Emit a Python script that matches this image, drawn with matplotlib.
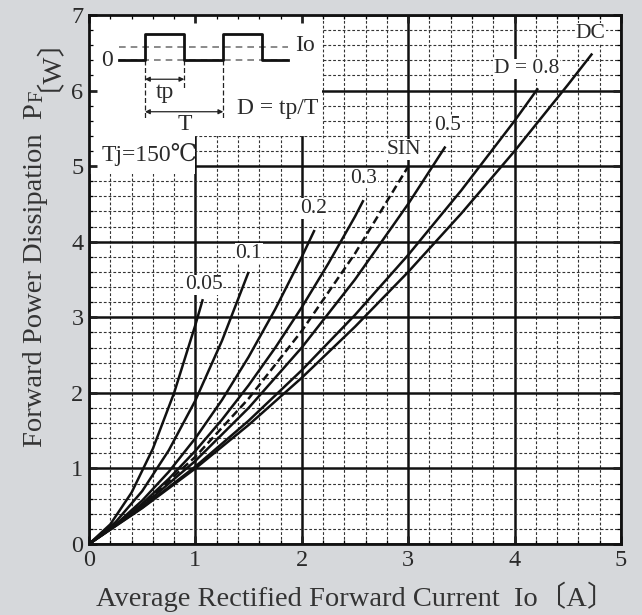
import matplotlib
matplotlib.use("Agg")
import matplotlib.pyplot as plt
import matplotlib.transforms as mtransforms
from matplotlib.patches import Rectangle

plt.rcParams['font.family'] = ['Liberation Serif', 'DejaVu Serif', 'DejaVu Sans', 'Noto Sans CJK JP']

# ---------------- data ----------------
x_dc = [0, 0.5, 1.0, 1.5, 2.0, 2.5, 3.0, 3.5, 4.0, 4.5, 4.73]
p_dc = [0, 0.475, 1.0, 1.575, 2.2, 2.875, 3.6, 4.375, 5.2, 6.075, 6.49]

x_d08 = [0, 0.5, 1.0, 1.5, 2.0, 2.5, 3.0, 3.5, 4.0, 4.22]
p_d08 = [0, 0.481, 1.025, 1.631, 2.3, 3.031, 3.825, 4.681, 5.6, 6.03]

x_d05 = [0, 0.5, 1.0, 1.5, 2.0, 2.5, 3.0, 3.35]
p_d05 = [0, 0.5, 1.1, 1.8, 2.6, 3.5, 4.5, 5.26]

x_sin = [0, 0.5, 1.0, 1.5, 2.0, 2.5, 3.0]
p_sin = [0, 0.514, 1.155, 1.924, 2.82, 3.844, 4.995]

x_d03 = [0, 0.25, 0.5, 0.75, 1.0, 1.25, 1.5, 1.75, 2.0, 2.25, 2.5, 2.58]
p_d03 = [0, 0.246, 0.533, 0.863, 1.233, 1.646, 2.1, 2.596, 3.133, 3.713, 4.333, 4.55]

x_d02 = [0, 0.25, 0.5, 0.75, 1.0, 1.25, 1.5, 1.75, 2.0, 2.12]
p_d02 = [0, 0.256, 0.575, 0.956, 1.4, 1.906, 2.475, 3.106, 3.8, 4.155]

x_d01 = [0, 0.25, 0.5, 0.75, 1.0, 1.25, 1.5]
p_d01 = [0, 0.29, 0.70, 1.24, 1.9, 2.69, 3.6]

x_d005 = [0, 0.2, 0.4, 0.6, 0.8, 1.0, 1.07]
p_d005 = [0, 0.26, 0.68, 1.26, 2.0, 2.9, 3.24]

curve_names = ["0.05", "0.1", "0.2", "0.3", "SIN", "0.5", "D = 0.8", "DC"]
label_x = [1.08, 1.50, 2.11, 2.58, 2.96, 3.37, 4.11, 4.71]
label_y = [3.43, 3.85, 4.44, 4.84, 5.22, 5.54, 6.29, 6.76]

x_ticks = [0, 1, 2, 3, 4, 5]
y_ticks = [0, 1, 2, 3, 4, 5, 6, 7]

# inset pulse waveform (data coordinates of the sketch)
pulse_x = [0.285, 0.526, 0.526, 0.896, 0.896, 1.262, 1.262, 1.623, 1.623, 1.873]
pulse_y = [6.40, 6.40, 6.75, 6.75, 6.40, 6.40, 6.75, 6.75, 6.40, 6.40]

# ---------------- figure ----------------
BG = '#d6d8db'
TXT = '#2a2a2a'
fig = plt.figure(figsize=(6.42, 6.15), dpi=100, facecolor=BG)
rect = [89/642, 71/615, 532/642, 529/615]
ax = fig.add_axes(rect)
ax.set_facecolor('white')
ax.set_xlim(0, 5)
ax.set_ylim(0, 7)
ax.set_axisbelow(True)

ax.set_xticks(x_ticks)
ax.set_yticks(y_ticks)
ax.set_xticks([i * 0.2 for i in range(26)], minor=True)
ax.set_yticks([i * 0.2 for i in range(36)], minor=True)
ax.grid(which='major', color='#111111', lw=1.8, ls='-')
ax.grid(which='minor', color='#333333', lw=0.8, ls=(0, (2.5, 1.8)))
ax.tick_params(which='both', length=0, labelbottom=False, labelleft=False)
for s in ax.spines.values():
    s.set_visible(False)

# white boxes behind inset & Tj text
ax.add_patch(Rectangle((0, 5.4), 2.19, 1.6, facecolor='white', edgecolor='none', zorder=1))
ax.add_patch(Rectangle((0, 4.9), 1.0, 0.55, facecolor='white', edgecolor='none', zorder=1))

lw = 1.8
curves = [(x_d005, p_d005), (x_d01, p_d01), (x_d02, p_d02), (x_d03, p_d03),
          (x_sin, p_sin), (x_d05, p_d05), (x_d08, p_d08), (x_dc, p_dc)]
for name, (xs, ps) in zip(curve_names, curves):
    if name == "SIN":
        ax.plot(xs, ps, color='#111111', lw=lw, ls=(0, (3.2, 1.6)), zorder=3)
    else:
        ax.plot(xs, ps, color='#111111', lw=lw, zorder=3, solid_capstyle='butt')

lab_fs = 15.5
for name, lx, ly in zip(curve_names, label_x, label_y):
    ax.text(lx, ly, name, ha='center', va='center', fontsize=lab_fs, color=TXT, zorder=4,
            bbox=dict(facecolor='white', edgecolor='none', pad=0.5))

# ---------------- inset sketch ----------------
ins_fs = 17
ax.plot([0.285, 1.873], [6.58, 6.58], color='#777777', lw=1.2, ls=(0, (4, 3)), zorder=3)
ax.plot([0.285, 1.873], [6.40, 6.40], color='#777777', lw=1.2, ls=(0, (4, 3)), zorder=3)
ax.plot(pulse_x, pulse_y, color='#111111', lw=2.0, zorder=4)
ax.plot([0.526, 0.526], [6.40, 5.63], color='#222222', lw=0.9, ls=(0, (4, 2)), zorder=3)
ax.plot([0.896, 0.896], [6.40, 6.03], color='#222222', lw=0.9, ls=(0, (4, 2)), zorder=3)
ax.plot([1.262, 1.262], [6.40, 5.63], color='#222222', lw=0.9, ls=(0, (4, 2)), zorder=3)
ax.annotate('', xy=(0.896, 6.15), xytext=(0.526, 6.15),
            arrowprops=dict(arrowstyle='<|-|>', lw=0.9, color='#222222', mutation_scale=7,
                            shrinkA=0, shrinkB=0), zorder=4)
ax.annotate('', xy=(1.262, 5.72), xytext=(0.526, 5.72),
            arrowprops=dict(arrowstyle='<|-|>', lw=0.9, color='#222222', mutation_scale=7,
                            shrinkA=0, shrinkB=0), zorder=4)
ax.text(0.17, 6.40, "0", ha='center', va='center', fontsize=ins_fs, color=TXT, zorder=4)
ax.text(2.03, 6.60, "Io", ha='center', va='center', fontsize=ins_fs, color=TXT, zorder=4)
ax.text(0.71, 5.97, "tp", ha='center', va='center', fontsize=ins_fs, color=TXT, zorder=4)
ax.text(0.90, 5.55, "T", ha='center', va='center', fontsize=ins_fs, color=TXT, zorder=4)
ax.text(1.77, 5.76, "D = tp/T", ha='center', va='center', fontsize=ins_fs, color=TXT, zorder=4)
ax.text(0.12, 5.15, "Tj=150℃", ha='left', va='center', fontsize=ins_fs, color=TXT, zorder=4)

# ---------------- overlay axes for spines, ticks and labels ----------------
ax2 = fig.add_axes(rect)
ax2.set_xlim(0, 5)
ax2.set_ylim(0, 7)
ax2.patch.set_visible(False)
ax2.set_xticks(x_ticks)
ax2.set_yticks(y_ticks)
ax2.set_xticks([i * 0.2 for i in range(26)], minor=True)
ax2.set_yticks([i * 0.2 for i in range(36)], minor=True)
ax2.tick_params(which='major', direction='in', length=6, width=2.0, top=True, right=True,
                labelsize=17.5, pad=4, colors='#222222', labelcolor=TXT)
ax2.tick_params(which='minor', direction='in', length=3, width=0.9, top=True, right=True)
ax2.set_xticklabels([str(v) for v in x_ticks])
ax2.set_yticklabels([str(v) for v in y_ticks])
for s in ax2.spines.values():
    s.set_linewidth(2.0)
    s.set_color('#111111')

# axis labels
lab_size = 20.5
fig.text(356 / 642, 1 - 606 / 615, "Average Rectified Forward Current  Io〔A〕",
         ha='center', va='baseline', fontsize=lab_size, color='#333333')

yl_x = 42 / 642
blend = mtransforms.blended_transform_factory(fig.transFigure, mtransforms.IdentityTransform())
t1 = fig.text(yl_x, 1 - 447 / 615, "Forward Power Dissipation  P", rotation=90,
              rotation_mode='anchor', ha='left', va='baseline', fontsize=lab_size, color='#333333')
t2 = fig.text(yl_x, 0, "F", rotation=90, rotation_mode='anchor', ha='left', va='baseline',
              fontsize=lab_size * 0.72, color='#333333', transform=blend)
t3 = fig.text(yl_x, 0, "〔W〕", rotation=90, rotation_mode='anchor', ha='left', va='baseline',
              fontsize=lab_size, color='#333333', transform=blend)

fig.canvas.draw()
r = fig.canvas.get_renderer()
bb1 = t1.get_window_extent(r)
t2.set_position((yl_x, bb1.y1 + 1))
fig.canvas.draw()
bb2 = t2.get_window_extent(r)
t3.set_position((yl_x, bb2.y1))

fig.savefig("out.png", dpi=100, facecolor=BG)
